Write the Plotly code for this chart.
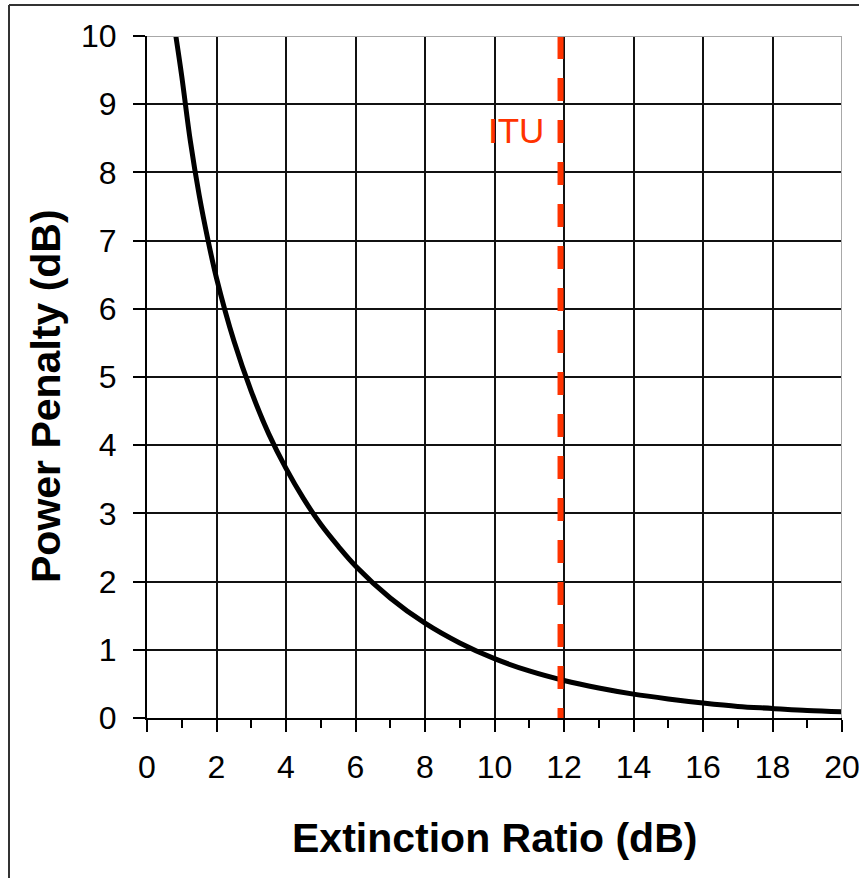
import plotly.graph_objects as go

# Values
extinction_ratio_db = [0.83, 1.0, 1.25, 1.5, 1.75, 2.0, 2.5, 3.0, 3.5, 4.0, 4.5, 5.0, 5.5, 6.0,
                       7.0, 8.0, 9.0, 10.0, 11.0, 12.0, 13.0, 14.0, 15.0, 16.0, 17.0, 18.0, 19.0, 20.1]
power_penalty_db = [10.0, 9.41, 8.45, 7.67, 7.02, 6.45, 5.53, 4.79, 4.17, 3.66, 3.22, 2.84, 2.52, 2.23,
                    1.76, 1.39, 1.10, 0.87, 0.69, 0.55, 0.44, 0.35, 0.28, 0.22, 0.17, 0.14, 0.11, 0.09]
itu_limit_db = 11.9
itu_label = "ITU"
x_ticks = [0, 2, 4, 6, 8, 10, 12, 14, 16, 18, 20]
y_ticks = [0, 1, 2, 3, 4, 5, 6, 7, 8, 9, 10]

W, H = 859, 878
L, R, T, B = 147, 842, 36, 718


def px(xp):
    return (xp - L) / (R - L)


def py(yp):
    return (B - yp) / (B - T)


FONT = "Liberation Sans, Arial, sans-serif"

fig = go.Figure()

fig.add_trace(go.Scatter(
    x=extinction_ratio_db, y=power_penalty_db, mode="lines",
    line=dict(color="black", width=5, shape="spline"),
    showlegend=False, hoverinfo="skip",
))

fig.add_trace(go.Scatter(
    x=[itu_limit_db, itu_limit_db], y=[10, 0], mode="lines",
    line=dict(color="#FF3300", width=6, dash="23px,19px"),
    showlegend=False, hoverinfo="skip",
))

# gray top/right plot frame
fig.add_shape(type="line", xref="x", yref="y", x0=0, y0=10, x1=20, y1=10,
              line=dict(color="#A8A8A8", width=2), layer="above")
fig.add_shape(type="line", xref="x", yref="y", x0=20, y0=10, x1=20, y1=0,
              line=dict(color="#A8A8A8", width=2), layer="above")

# outer figure frame (left and top edges visible)
fig.add_shape(type="line", xref="paper", yref="paper", x0=px(9), y0=py(5), x1=px(870), y1=py(5),
              line=dict(color="#333333", width=2))
fig.add_shape(type="line", xref="paper", yref="paper", x0=px(9), y0=py(5), x1=px(9), y1=py(890),
              line=dict(color="#333333", width=2))

fig.add_annotation(x=11.48, y=8.62, xref="x", yref="y", text=itu_label, showarrow=False,
                   xanchor="right", yanchor="middle",
                   font=dict(family=FONT, size=35, color="#FF3300"))

fig.add_annotation(x=0.5, y=py(838), xref="paper", yref="paper",
                   text="<b>Extinction Ratio (dB)</b>", showarrow=False,
                   xanchor="center", yanchor="middle",
                   font=dict(family=FONT, size=41, color="black"))
fig.add_annotation(x=px(46), y=py(396), xref="paper", yref="paper",
                   text="<b>Power Penalty (dB)</b>", showarrow=False, textangle=-90,
                   xanchor="center", yanchor="middle",
                   font=dict(family=FONT, size=41, color="black"))

fig.update_xaxes(
    range=[0, 20], tickmode="array", tickvals=x_ticks, ticktext=[str(v) for v in x_ticks],
    showgrid=True, gridcolor="#111111", gridwidth=1.6,
    showline=True, linecolor="black", linewidth=2,
    ticks="outside", ticklen=12, tickwidth=2, tickcolor="black",
    minor=dict(dtick=1, tick0=0, ticks="outside", ticklen=8, tickwidth=2, tickcolor="black", showgrid=False),
    tickfont=dict(family=FONT, size=32, color="black"),
    ticklabeloverflow="allow", ticklabelstandoff=8, automargin=False,
    zeroline=False, fixedrange=True,
)
fig.update_yaxes(
    range=[0, 10], tickmode="array", tickvals=y_ticks, ticktext=[str(v) for v in y_ticks],
    showgrid=True, gridcolor="#111111", gridwidth=1.6,
    showline=True, linecolor="black", linewidth=2,
    ticks="outside", ticklen=12, tickwidth=2, tickcolor="black",
    tickfont=dict(family=FONT, size=32, color="black"),
    ticklabeloverflow="allow", ticklabelstandoff=10, automargin=False,
    zeroline=False, fixedrange=True,
)

fig.update_layout(
    width=W, height=H,
    margin=dict(l=L, r=W - R, t=T, b=H - B, pad=0, autoexpand=False),
    paper_bgcolor="white", plot_bgcolor="white",
    showlegend=False,
)

fig.write_html("out.html", config={"displayModeBar": False},
               post_script="document.body.style.margin='0px';")
